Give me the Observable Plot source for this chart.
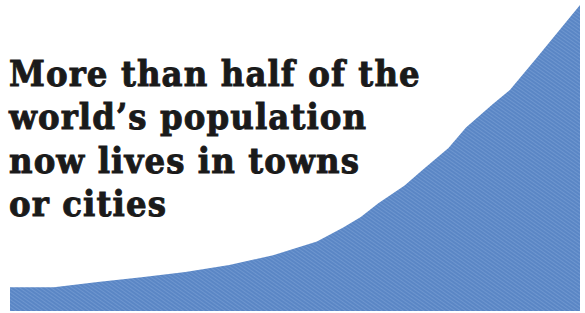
<!DOCTYPE html>
<html>
<head>
<meta charset="utf-8">
<script src="https://cdn.jsdelivr.net/npm/d3@7"></script>
<script src="https://cdn.jsdelivr.net/npm/@observablehq/plot@0.6"></script>
<style>
  html, body { margin: 0; padding: 0; background: #fff; }
  #wrap { position: relative; width: 585px; height: 313px; overflow: hidden; }
  #title {
    position: absolute; left: 9px; top: 52px;
    font-family: "DejaVu Serif Condensed", "DejaVu Serif", serif;
    font-weight: bold; font-size: 36px; line-height: 43.3px;
    color: #1a1a1a; letter-spacing: 1.1px; white-space: nowrap;
    -webkit-text-stroke: 0.9px #1a1a1a;
  }
</style>
</head>
<body>
<div id="wrap">
  <div id="chart"></div>
  <div id="title"></div>
</div>
<script>
// Urban population (relative units)
const years = [1950, 1955, 1960, 1965, 1970, 1975, 1980, 1985, 1988, 1990, 1992, 1995, 1997, 2000, 2002, 2005, 2007, 2010, 2015];
const values = [0.31, 0.31, 0.38, 0.44, 0.51, 0.60, 0.73, 0.91, 1.09, 1.23, 1.41, 1.64, 1.84, 2.13, 2.40, 2.70, 2.89, 3.30, 4.00];
const titleLines = ["More than half of the", "world\u2019s population", "now lives in towns", "or cities"];

const data = years.map((y, i) => ({year: y, value: values[i]}));

const plot = Plot.plot({
  width: 585,
  height: 313,
  marginLeft: 10,
  marginRight: 5,
  marginTop: 5,
  marginBottom: 2,
  x: {domain: [1950, 2015], axis: null},
  y: {domain: [0, 4], axis: null},
  marks: [
    Plot.areaY(data, {x: "year", y: "value", fill: "url(#hatch)", curve: "linear"})
  ]
});

// diagonal hatch pattern like the printed texture
const ns = "http://www.w3.org/2000/svg";
const defs = document.createElementNS(ns, "defs");
defs.innerHTML = `<pattern id="hatch" patternUnits="userSpaceOnUse" width="3" height="3" patternTransform="rotate(-55)">
  <rect width="3" height="3" fill="#5a86c5"></rect>
  <rect width="1" height="3" fill="#6e96cf"></rect>
</pattern>`;
plot.insertBefore(defs, plot.firstChild);
document.getElementById("chart").appendChild(plot);

const t = document.getElementById("title");
titleLines.forEach(l => { const d = document.createElement("div"); d.textContent = l; t.appendChild(d); });
</script>
</body>
</html>
